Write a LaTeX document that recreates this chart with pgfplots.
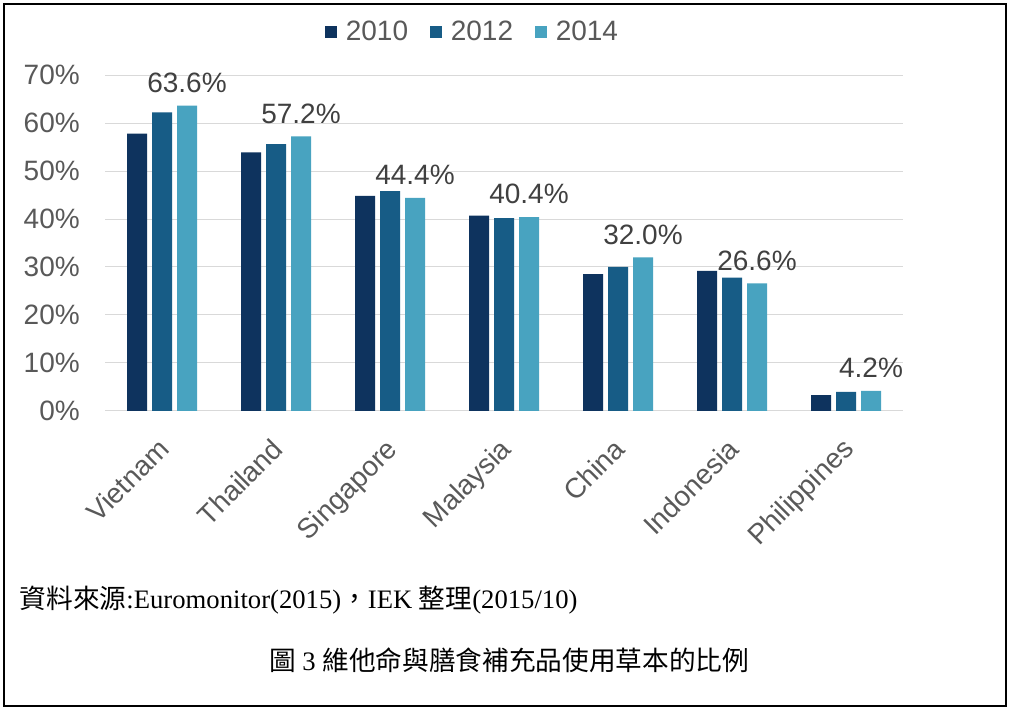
\documentclass[border=0pt]{standalone}
\usepackage{pgfplots}
\pgfplotsset{compat=1.18}
\usepackage{fontspec}
\setmainfont{Liberation Sans}
\newfontfamily\serifnum{Liberation Serif}
\newfontfamily\cjk{Noto Sans CJK TC}
\definecolor{cA}{HTML}{0E335E}
\definecolor{cB}{HTML}{175C86}
\definecolor{cC}{HTML}{48A3C0}
\definecolor{tickc}{HTML}{595959}
\definecolor{labc}{HTML}{404040}
\definecolor{gridc}{HTML}{D9D9D9}
\begin{document}
\begin{tikzpicture}[x=0.75pt,y=0.75pt]
\path[fill=white] (0,0) rectangle (1014,713);
\draw[line width=1.5pt] (4,7) rectangle (1006.3,709);
\begin{axis}[
  at={(78.75pt,226.5pt)}, anchor=south west,
  scale only axis, width=598.5pt, height=252pt,
  xmin=-0.5, xmax=6.5, ymin=0, ymax=70,
  ytick={0,10,...,70},
  xtick={0,...,6},
  xticklabels={Vietnam,Thailand,Singapore,Malaysia,China,Indonesia,Philippines},
  /pgf/number format/assume math mode=true,
  yticklabel={\pgfmathprintnumber{\tick}\%},
  major tick length=0pt,
  axis line style={draw=none},
  ymajorgrids, grid style={gridc, line width=0.75pt},
  tick label style={font=\fontsize{21}{25}\selectfont, text=tickc},
  yticklabel style={anchor=east, inner sep=0pt, xshift=-18.75pt},
  xticklabel style={inner sep=0pt, xshift=-4pt, yshift=-19pt, rotate=45, anchor=north east},
  ybar, bar width=15pt,
  legend style={at={(0.4611,1.128)}, anchor=center, draw=none, fill=none,
    font=\fontsize{21}{25}\selectfont, text=tickc, legend columns=3,
    inner sep=0pt, column sep=4.5pt,
    /tikz/every even column/.append style={column sep=14.5pt}},
  legend image code/.code={\path[#1] (0pt,-4.5pt) rectangle (9pt,4.5pt);},
  clip=false,
]
\addplot[fill=cA, draw=none, bar shift=-18.75pt] coordinates {(0,57.8) (1,53.9) (2,44.8) (3,40.7) (4,28.5) (5,29.2) (6,3.3)};
\addplot[fill=cB, draw=none, bar shift=0pt] coordinates {(0,62.2) (1,55.6) (2,45.8) (3,40.2) (4,30.0) (5,27.8) (6,4.0)};
\addplot[fill=cC, draw=none, bar shift=18.75pt,
  nodes near coords={\pgfmathprintnumber[fixed,precision=1,fixed zerofill]{\pgfplotspointmeta}\%},
  nodes near coords style={font=\fontsize{21}{25}\selectfont, text=labc, anchor=south, inner sep=0pt, yshift=9.5pt}]
  coordinates {(0,63.6) (1,57.2) (2,44.4) (3,40.4) (4,32.0) (5,26.6) (6,4.2)};
\legend{2010,2012,2014}
\end{axis}
\node[anchor=base west, inner sep=0pt, font=\fontsize{20}{24}\selectfont] at (19.5,104.5)
  {{\cjk 資料來源}{\serifnum :Euromonitor(2015)}{\cjk ，}{\serifnum IEK }{\cjk 整理}{\serifnum (2015/10)}};
\node[anchor=base, inner sep=0pt, font=\fontsize{20}{24}\selectfont] at (509,42)
  {{\cjk 圖}{\serifnum\ 3 }{\cjk 維他命與膳食補充品使用草本的比例}};
\end{tikzpicture}
\end{document}
